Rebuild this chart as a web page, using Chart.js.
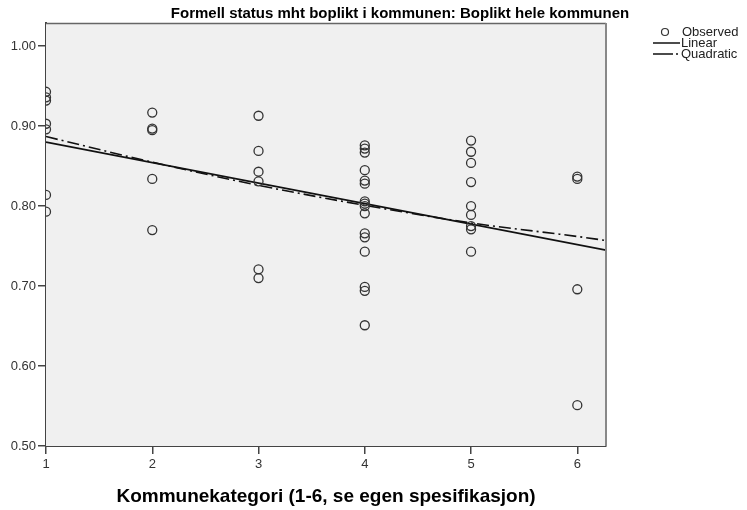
<!DOCTYPE html>
<html>
<head>
<meta charset="utf-8">
<script src="https://cdn.jsdelivr.net/npm/chart.js@4/dist/chart.umd.min.js"></script>
<style>
  body { margin: 0; background: #fff; }
  #wrap { width: 747px; height: 510px; }
</style>
</head>
<body>
<div id="wrap"><canvas id="myChart"></canvas></div>
<script>
// observed values per Kommunekategori
const cat1 = [0.943, 0.936, 0.932, 0.903, 0.896, 0.814, 0.793];
const cat2 = [0.917, 0.897, 0.895, 0.834, 0.770];
const cat3 = [0.913, 0.869, 0.843, 0.831, 0.721, 0.710];
const cat4 = [0.876, 0.872, 0.867, 0.845, 0.832, 0.828, 0.806, 0.803, 0.800, 0.791, 0.766, 0.761, 0.743, 0.699, 0.694, 0.651];
const cat5 = [0.882, 0.868, 0.854, 0.830, 0.800, 0.789, 0.775, 0.771, 0.743];
const cat6 = [0.837, 0.834, 0.696, 0.551];

// fitted curves
const linearX = [1, 6.27];
const linearY = [0.880, 0.745];
const quadX = [1, 2, 3, 4, 5, 6, 6.27];
const quadY = [0.887, 0.855, 0.826, 0.801, 0.779, 0.762, 0.757];

const xTicks = [1, 2, 3, 4, 5, 6];
const yTicks = [0.5, 0.6, 0.7, 0.8, 0.9, 1.0];

const observed = [];
[cat1, cat2, cat3, cat4, cat5, cat6].forEach((vals, i) => {
  vals.forEach(v => observed.push({ x: xTicks[i], y: v }));
});
const linear = linearX.map((x, i) => ({ x: x, y: linearY[i] }));
const quad = quadX.map((x, i) => ({ x: x, y: quadY[i] }));

const FONT = '"Liberation Sans", Arial, sans-serif';

const frame = {
  id: 'frame',
  beforeDatasetsDraw(chart) {
    const a = chart.chartArea, c = chart.ctx;
    c.save();
    c.fillStyle = '#f0f0f0';
    c.fillRect(a.left, a.top, a.right - a.left, a.bottom - a.top);
    c.restore();
  },
  afterDraw(chart) {
    const a = chart.chartArea, c = chart.ctx;
    c.save();
    // top and right border
    c.strokeStyle = '#666';
    c.lineWidth = 1.5;
    c.beginPath();
    c.moveTo(a.left, a.top + 0.5);
    c.lineTo(a.right, a.top + 0.5);
    c.stroke();
    c.strokeStyle = '#888';
    c.lineWidth = 2;
    c.beginPath();
    c.moveTo(a.right, a.top);
    c.lineTo(a.right, a.bottom);
    c.stroke();

    // title
    c.fillStyle = '#000';
    c.font = 'bold 15px ' + FONT;
    c.textAlign = 'center';
    c.textBaseline = 'middle';
    c.fillText('Formell status mht boplikt i kommunen: Boplikt hele kommunen', 400, 14);

    // legend
    c.font = '13px ' + FONT;
    c.textAlign = 'left';
    c.fillStyle = '#222';
    c.strokeStyle = '#333';
    c.lineWidth = 1.2;
    c.beginPath();
    c.arc(665, 32, 3.5, 0, Math.PI * 2);
    c.stroke();
    c.fillText('Observed', 682, 32);

    c.lineWidth = 1.5;
    c.strokeStyle = '#111';
    c.beginPath();
    c.moveTo(653, 43);
    c.lineTo(680, 43);
    c.stroke();
    c.fillText('Linear', 681, 43);

    c.setLineDash([20, 3, 2, 3]);
    c.beginPath();
    c.moveTo(653, 54);
    c.lineTo(680, 54);
    c.stroke();
    c.setLineDash([]);
    c.fillText('Quadratic', 681, 54);
    c.restore();
  }
};

new Chart(document.getElementById('myChart'), {
  type: 'scatter',
  data: {
    datasets: [{
      label: 'Observed',
      data: observed,
      pointRadius: 4.5,
      pointBorderWidth: 1.3,
      borderColor: '#333',
      backgroundColor: 'rgba(0,0,0,0)',
      clip: 0
    }, {
      label: 'Linear',
      data: linear,
      showLine: true,
      pointRadius: 0,
      borderColor: '#111',
      borderWidth: 1.6,
      clip: 0
    }, {
      label: 'Quadratic',
      data: quad,
      showLine: true,
      pointRadius: 0,
      borderColor: '#111',
      borderWidth: 1.6,
      borderDash: [12, 4, 2, 4],
      cubicInterpolationMode: 'monotone',
      clip: 0
    }]
  },
  options: {
    responsive: true,
    maintainAspectRatio: false,
    animation: false,
    layout: { padding: { top: 23, right: 141, left: 0, bottom: 0 } },
    plugins: { legend: { display: false }, tooltip: { enabled: false }, title: { display: false } },
    scales: {
      x: {
        type: 'linear',
        min: 1,
        max: 6.27,
        afterFit(s) { s.height = 64; },
        afterBuildTicks(s) { s.ticks = xTicks.map(v => ({ value: v })); },
        ticks: { color: '#333', font: { family: FONT, size: 13 }, padding: 3, maxRotation: 0 },
        grid: { drawOnChartArea: false, drawTicks: true, tickLength: 8, color: '#444', lineWidth: 1.5 },
        border: { display: true, color: '#444', width: 2 },
        title: {
          display: true,
          text: 'Kommunekategori (1-6, se egen spesifikasjon)',
          color: '#000',
          font: { family: FONT, size: 19, weight: 'bold' },
          padding: { top: 0, bottom: 2 }
        }
      },
      y: {
        min: 0.5,
        max: 1.029,
        afterFit(s) { s.width = 46; },
        afterBuildTicks(s) { s.ticks = yTicks.map(v => ({ value: v })); },
        ticks: { color: '#333', font: { family: FONT, size: 13 }, padding: 2, callback: v => v.toFixed(2) },
        grid: { drawOnChartArea: false, drawTicks: true, tickLength: 8, color: '#444', lineWidth: 1.5 },
        border: { display: true, color: '#444', width: 2 }
      }
    }
  },
  plugins: [frame]
});
</script>
</body>
</html>
